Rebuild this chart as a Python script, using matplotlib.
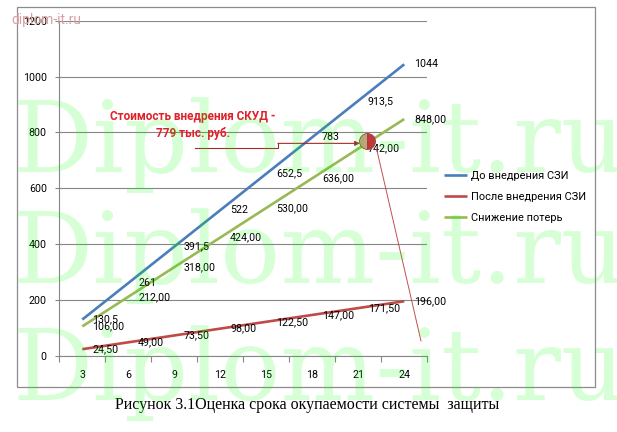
import matplotlib.pyplot as plt
from matplotlib.patches import Rectangle

plt.rcParams['font.family'] = ['Roboto', 'DejaVu Sans']

months = [3, 6, 9, 12, 15, 18, 21, 24]
before = [130.5, 261, 391.5, 522, 652.5, 783, 913.5, 1044]
after = [24.5, 49, 73.5, 98, 122.5, 147, 171.5, 196]
reduction = [106, 212, 318, 424, 530, 636, 742, 848]

before_labels = ["130,5", "261", "391,5", "522", "652,5", "783", "913,5", "1044"]
after_labels = ["24,50", "49,00", "73,50", "98,00", "122,50", "147,00", "171,50", "196,00"]
reduction_labels = ["106,00", "212,00", "318,00", "424,00", "530,00", "636,00", "742,00", "848,00"]

names = ["До внедрения СЗИ", "После внедрения СЗИ", "Снижение потерь"]
colors = ["#4a7ebb", "#be4b48", "#98b954"]
note = "Стоимость внедрения СКУД -\n779 тыс. руб."
caption = "Рисунок 3.1Оценка срока окупаемости системы  защиты"

fig = plt.figure(figsize=(6.17, 4.32), dpi=100)
ax = fig.add_axes([0.0961, 0.1759, 0.5964, 0.7762])

# chart frame
fig.patches.append(Rectangle((0.027, 0.1042), 0.9373, 0.8796, transform=fig.transFigure,
                             fill=False, edgecolor="#8c8c8c", lw=0.9))

series = [(before, before_labels), (after, after_labels), (reduction, reduction_labels)]
for (vals, labs), name, c in zip(series, names, colors):
    ax.plot(months, vals, color=c, lw=1.9, label=name, zorder=3, solid_capstyle="butt")
    for x, y, s in zip(months, vals, labs):
        ax.annotate(s, (x, y), xytext=(7, 0), textcoords="offset points",
                    va="center", ha="left", fontsize=7.7, zorder=4)

ax.set_xlim(1.5, 25.5)
ax.set_ylim(0, 1200)
ax.set_yticks(range(0, 1201, 200))
ax.set_xticks(months)
ax.set_xticks([m - 1.5 for m in months] + [25.5], minor=True)
ax.tick_params(axis="x", which="major", length=0, pad=10, labelsize=7.7)
ax.tick_params(axis="x", which="minor", length=4, color="#868686", width=0.8)
ax.tick_params(axis="y", length=3, color="#868686", width=0.8, pad=6, labelsize=7.7)
ax.grid(axis="y", color="#868686", lw=0.8, zorder=0)
ax.set_axisbelow(True)
for side in ["top", "right"]:
    ax.spines[side].set_visible(False)
for side in ["left", "bottom"]:
    ax.spines[side].set_color("#868686")
    ax.spines[side].set_linewidth(0.8)

# annotation of implementation cost
ax.text(10.23, 826, note, color="#e0202a", fontweight="bold", fontsize=8.5,
        ha="center", va="center", linespacing=1.35, zorder=5)
ax.plot([10.35, 15.76, 15.76], [743, 743, 761], color="#a52a2a", lw=0.8, zorder=5)
ax.annotate("", xy=(21.1, 761), xytext=(15.76, 761),
            arrowprops=dict(arrowstyle="-|>", color="#a52a2a", lw=0.8,
                            mutation_scale=7, shrinkA=0, shrinkB=0), zorder=5)
ax.plot([22.2, 25.09], [740, 54], color="#c0504d", lw=0.7, zorder=5, clip_on=False)
ax.plot([21.6], [770], marker="o", markersize=11.5, fillstyle="left",
        markerfacecolor="#c9a07f", markerfacecoloralt="#c0393b",
        markeredgecolor="#a04040", markeredgewidth=0.6, zorder=6, clip_on=False)

ax.legend(loc="center left", bbox_to_anchor=(0.711, 0.545), bbox_transform=fig.transFigure,
          frameon=False, fontsize=7.9, handlelength=2.1, handletextpad=0.35,
          labelspacing=1.0, borderpad=0)

fig.text(0.4975, 0.0625, caption, family="Liberation Serif", fontsize=11.5,
         ha="center", va="center")

# watermarks
for yy in [0.602, 0.345, 0.074]:
    fig.text(0.02, yy, "Diplom-it.ru", family="DejaVu Serif", fontsize=72,
             color="#00ff00", alpha=0.16, va="baseline", ha="left", zorder=10)
fig.text(0.019, 0.953, "diplom-it.ru", fontsize=10, color="#d8a0a0",
         va="center", ha="left", zorder=10)

fig.savefig("out.png", dpi=100)
